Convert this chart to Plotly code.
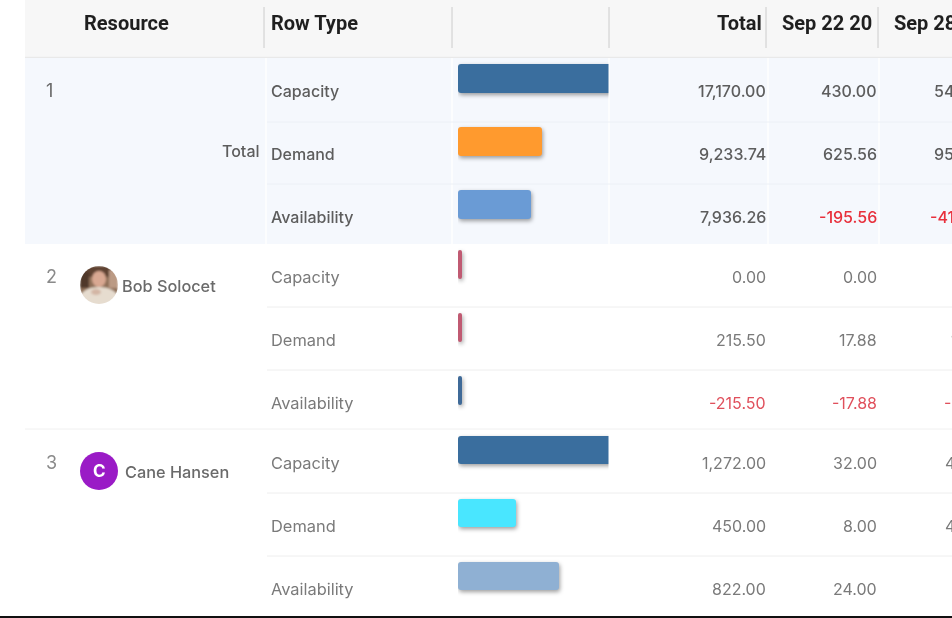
import base64
import plotly.graph_objects as go

W, H = 952, 618

# ---------- data ----------
row_types = ["Capacity", "Demand", "Availability"]
ranks = ["1", "2", "3"]
resources = ["Total", "Bob Solocet", "Cane Hansen"]
col_headers = ["Total", "Sep 22 20", "Sep 28 20"]

total_values = [["17,170.00", "9,233.74", "7,936.26"],
                ["0.00", "215.50", "-215.50"],
                ["1,272.00", "450.00", "822.00"]]
sep22_values = [["430.00", "625.56", "-195.56"],
                ["0.00", "17.88", "-17.88"],
                ["32.00", "8.00", "24.00"]]
sep28_values = [["540.00", "958.00", "-418.00"],
                ["0.00", "17.88", "-17.88"],
                ["40.00", "40.00", "0.00"]]

# share of the bar column each bar fills, in percent (over 100 = cut off by the column)
bar_fill = [[106, 56, 48.7],
            [2.6, 2.6, 2.6],
            [106, 38.3, 67.3]]
bar_colors = [["#3a6e9e", "#ff9a2e", "#6a9bd5"],
              ["#c05a72", "#c05a72", "#3f6a98"],
              ["#3a6e9e", "#49e6ff", "#8fb0d3"]]

# ---------- layout geometry ----------
def px(x):
    return x / W

def py(y):
    return 1 - y / H

BAR_LEFT, BAR_RIGHT = 458, 608.5
ROW_PITCH = 63
group_top = [58, 244, 429]
group_bottom = [244, 429, 616]
first_center = [78.5, 264.5, 450]
col_right = [768, 879, 991]
col_sep = [264, 452, 609, 766, 878]

FONT = "Inter"
HEAD_FONT = "Roboto"
fig = go.Figure()
yaxes = ["y", "y2", "y3"]
layout_axes = {}
for g in range(3):
    fig.add_trace(go.Bar(
        x=bar_fill[g], y=row_types, orientation="h", width=0.46,
        marker=dict(color=bar_colors[g], line=dict(width=0)),
        xaxis="x", yaxis=yaxes[g], showlegend=False, hoverinfo="skip",
    ))
    k_top = (group_top[g] - first_center[g]) / ROW_PITCH
    k_bot = (group_bottom[g] - first_center[g]) / ROW_PITCH
    layout_axes["yaxis" if g == 0 else f"yaxis{g+1}"] = dict(
        domain=[py(group_bottom[g]), py(group_top[g])],
        range=[k_bot, k_top], type="category", categoryorder="array",
        categoryarray=row_types, visible=False, anchor="x", fixedrange=True,
    )

shapes = []
def rect(x0, y0, x1, y1, color):
    shapes.append(dict(type="rect", xref="paper", yref="paper", x0=px(x0), x1=px(x1),
                       y0=py(y0), y1=py(y1), fillcolor=color, line=dict(width=0), layer="below"))
def hline(x0, x1, y, color, width=1):
    shapes.append(dict(type="line", xref="paper", yref="paper", x0=px(x0), x1=px(x1),
                       y0=py(y), y1=py(y), line=dict(color=color, width=width), layer="below"))
def vline(x, y0, y1, color, width=1):
    shapes.append(dict(type="line", xref="paper", yref="paper", x0=px(x), x1=px(x),
                       y0=py(y0), y1=py(y1), line=dict(color=color, width=width), layer="below"))

# header and total band
rect(25, 0, W, 57, "#f7f7f7")
hline(25, W, 57.5, "#e9e9e9", 1.5)
rect(25, 58, W, 244, "#f5f8fd")
for x in col_sep:
    vline(x, 7, 48, "#cccccc", 1)
for x in [266, 452, 609, 768, 879]:
    vline(x, 58, 244, "#fcfdfe", 2)
# row rules
for y in [122, 184]:
    hline(267, W, y, "#ecf0f6")
for y in [307, 370, 493, 556]:
    hline(267, W, y, "#eeeeee")
hline(25, W, 429, "#f0f0f0")
hline(0, W, 617, "#111111", 2)

# avatar disc for Cane
shapes.append(dict(type="circle", xref="paper", yref="paper", x0=px(80), x1=px(118),
                   y0=py(490), y1=py(452), fillcolor="#9a1bc6", line=dict(width=0), layer="below"))

ann = []
def text(x, y, s, xref="paper", yref="paper", anchor="left", size=16, color="#777777",
         weight=400, yshift=0, family=FONT):
    ann.append(dict(x=x, y=y, text=s, xref=xref, yref=yref, xanchor=anchor, yanchor="middle",
                    showarrow=False, yshift=yshift, align=anchor,
                    font=dict(family=family, size=size, color=color, weight=weight)))

# header
HEAD = "#1f1f1f"
HS = 20
HW = 700
text(px(82), py(23), "Resource", size=HS, color=HEAD, weight=HW, family=HEAD_FONT)
text(px(269), py(23), "Row Type", size=HS, color=HEAD, weight=HW, family=HEAD_FONT)
text(px(764), py(23), col_headers[0], anchor="right", size=HS, color=HEAD, weight=HW, family=HEAD_FONT)
text(px(874), py(23), col_headers[1], anchor="right", size=HS, color=HEAD, weight=HW, family=HEAD_FONT)
text(px(892), py(23), col_headers[2], size=HS, color=HEAD, weight=HW, family=HEAD_FONT)

TEXT_SHIFT = -12.5
for g in range(3):
    yref = yaxes[g]
    body = "#5d5d5d" if g == 0 else "#7a7a7a"
    wt = 500 if g == 0 else 400
    neg = "#e8303c" if g == 0 else "#e0505c"
    label_size = 16 if g == 0 else 16.4
    for r, row in enumerate(row_types):
        text(px(269), row, row, yref=yref, size=label_size, color=body, weight=wt, yshift=TEXT_SHIFT)
        for c, values in enumerate([total_values, sep22_values, sep28_values]):
            v = values[g][r]
            text(px(col_right[c]), row, v, yref=yref, anchor="right",
                 color=neg if v.startswith("-") else body, weight=wt, yshift=TEXT_SHIFT)
    text(px(43.5), row_types[0], ranks[g], yref=yref, size=18,
         color="#6a6a6a" if g == 0 else "#8a8a8a", yshift=-11.5 if g < 2 else -12)

text(px(262), row_types[1], resources[0], yref="y", anchor="right", color="#5d5d5d", weight=500, yshift=-9.5)
text(px(120), row_types[0], resources[1], yref="y2", size=16.3, color="#6a6a6a", weight=500, yshift=-21.5)
text(px(123), row_types[0], resources[2], yref="y3", size=16.3, color="#6a6a6a", weight=500, yshift=-22)
text(px(99), py(471), "C", anchor="center", size=17, color="#ffffff", weight=700)

# small drawn portrait for Bob
svg = """<svg xmlns='http://www.w3.org/2000/svg' width='76' height='76' viewBox='0 0 38 38'>
<defs><clipPath id='c'><circle cx='19' cy='19' r='19'/></clipPath>
<filter id='b'><feGaussianBlur stdDeviation='1.2'/></filter></defs>
<g clip-path='url(#c)'><g filter='url(#b)'>
<rect width='38' height='38' fill='#8f7058'/>
<rect width='38' height='11' fill='#5f4232'/>
<rect x='0' y='6' width='9' height='16' fill='#4f392c'/>
<rect x='29' y='4' width='9' height='18' fill='#bb9a84'/>
<ellipse cx='19' cy='13' rx='7' ry='8' fill='#d9a892'/>
<ellipse cx='19' cy='32' rx='19' ry='11' fill='#e6dccf'/>
<ellipse cx='16' cy='26' rx='5' ry='3' fill='#d3b5a4'/>
</g></g></svg>"""
images = [dict(source="data:image/svg+xml;base64," + base64.b64encode(svg.encode()).decode(),
               xref="paper", yref="paper", x=px(80), y=py(266), sizex=38 / W, sizey=38 / H,
               xanchor="left", yanchor="top", sizing="stretch", layer="above")]

fig.update_layout(
    width=W, height=H, margin=dict(l=0, r=0, t=0, b=0),
    paper_bgcolor="#ffffff", plot_bgcolor="rgba(0,0,0,0)",
    xaxis=dict(domain=[px(BAR_LEFT), px(BAR_RIGHT)], range=[0, 100], visible=False,
               anchor="y", fixedrange=True),
    shapes=shapes, annotations=ann, images=images, bargap=0, hovermode=False,
    **layout_axes,
)

post = """
document.body.style.margin='0';
document.body.style.overflow='hidden';
var s=document.createElement('style');
s.textContent='.barlayer .point{filter:drop-shadow(1px 2px 2px rgba(0,0,0,.38))} .barlayer .point path{clip-path:inset(0 round 3px)} .plotly-graph-div{filter:blur(.45px)}';
document.head.appendChild(s);
"""
fig.write_html("out.html", config=dict(displayModeBar=False), post_script=post)
